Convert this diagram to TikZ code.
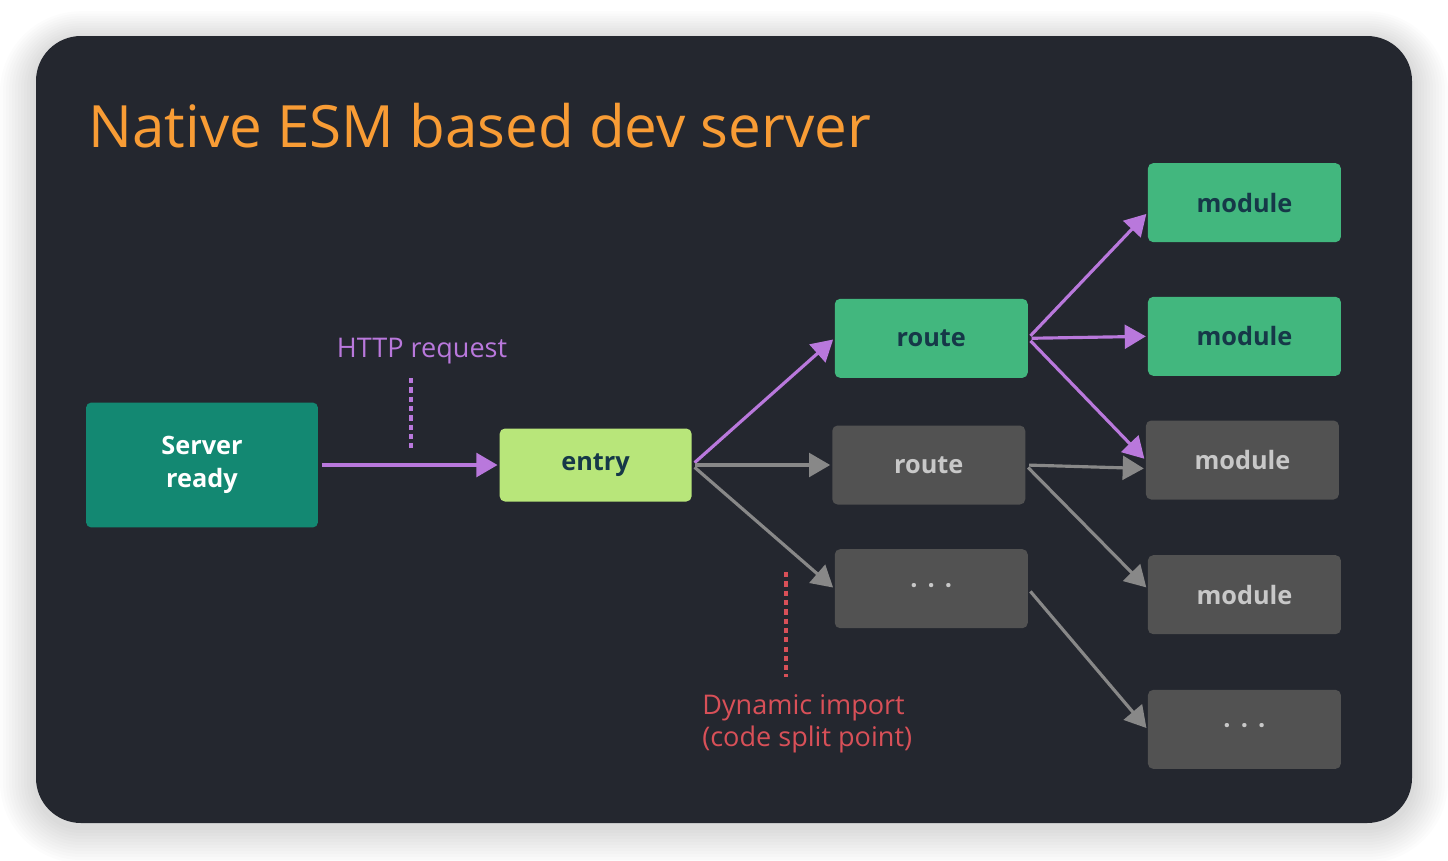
\documentclass[tikz,border=0pt]{standalone}
\usepackage{fontspec}
\setmainfont{Open Sans}
\usetikzlibrary{arrows.meta,positioning}

\definecolor{panelbg}{HTML}{24272F}
\definecolor{titleorange}{HTML}{F89C35}
\definecolor{readyteal}{HTML}{138872}
\definecolor{entrylime}{HTML}{B8E67A}
\definecolor{modgreen}{HTML}{42B77E}
\definecolor{boxgray}{HTML}{525252}
\definecolor{boxtext}{HTML}{163848}
\definecolor{graytext}{HTML}{C8C8C8}
\definecolor{arrowpurple}{HTML}{B978DC}
\definecolor{arrowgray}{HTML}{888888}
\definecolor{splitred}{HTML}{D85058}

\begin{document}
\begin{tikzpicture}[
    x=0.02cm, y=-0.02cm,
    box/.style={rectangle, rounded corners=3pt, minimum width=3.86cm, minimum height=1.58cm, inner sep=0pt, font=\fontsize{14.4}{17}\selectfont\bfseries},
    hot/.style={box, fill=modgreen, text=boxtext},
    cold/.style={box, fill=boxgray, text=graytext},
    readybox/.style={box, fill=readyteal, text=white, minimum width=4.64cm, minimum height=2.5cm, align=center, font=\fontsize{14.4}{18.8}\selectfont\bfseries},
    entrybox/.style={box, fill=entrylime, text=boxtext, minimum width=3.84cm, minimum height=1.46cm},
    arrow/.style={-{Triangle[length=12pt,width=13.5pt]}, line width=1.8pt, shorten <=2pt, shorten >=1pt},
    live/.style={arrow, draw=arrowpurple},
    idle/.style={arrow, draw=arrowgray},
    note/.style={inner sep=0pt, font=\fontsize{15.4}{18.2}\selectfont},
    pointer/.style={line width=1.9pt, dash pattern=on 3pt off 2.3pt}
]
    \useasboundingbox (0,0) rectangle (1448,860);

    % panel with soft shadow
    \foreach \i in {1,...,12}
        \fill[black, opacity=0.012, rounded corners={0.9cm+\i*0.06cm}]
            (36-\i*3,36-\i*2.4+4) rectangle (1412+\i*3,823+\i*3+4);
    \fill[panelbg, rounded corners=0.9cm] (36,36) rectangle (1412,823);

    % title
    \node[anchor=base west, inner sep=0pt, text=titleorange, font=\fontsize{33.2}{38}\selectfont] (title) at (88,147) {Native ESM based dev server};

    % server and entry
    \node[readybox] (ready) at (202,465) {Server\\ready};
    \node[entrybox] (entry) [right=3.62cm of ready] {entry};

    % routes
    \node[cold] (route2) [right=2.8cm of entry] {route};
    \node[hot] (route1) [above=0.94cm of route2, xshift=0.05cm] {route};
    \node[cold] (more1) [below=0.88cm of route2, xshift=0.05cm] {·\hspace{0.4em}·\hspace{0.4em}·};

    % modules
    \node[cold] (mod3) [right=2.4cm of route2, yshift=0.1cm] {module};
    \node[hot] (mod2) [above=0.88cm of mod3, xshift=0.04cm] {module};
    \node[hot] (mod1) [above=1.08cm of mod2] {module};
    \node[cold] (mod4) [below=1.1cm of mod3, xshift=0.04cm] {module};
    \node[cold] (mod5) [below=1.1cm of mod4] {·\hspace{0.4em}·\hspace{0.4em}·};

    % labels
    \node[note, text=arrowpurple] (http) at (422,351) {HTTP request};
    \node[note, text=splitred, align=left, anchor=west] (split) at (702,724) {Dynamic import\\(code split point)};
    \coordinate (httptop) at (411,378);
    \coordinate (httpbot) at (411,451);
    \coordinate (splittop) at (786,572);
    \coordinate (splitbot) at (786,677);
    \draw[pointer, arrowpurple] (httptop) -- (httpbot);
    \draw[pointer, splitred] (splittop) -- (splitbot);

    % connections
    \draw[live] (ready.east) -- (entry.west);
    \draw[live] (entry.east) -- (route1.west);
    \draw[idle] (entry.east) -- (route2.west);
    \draw[idle] (entry.east) -- (more1.west);
    \draw[live] (route1.east) -- ([yshift=-0.2cm]mod1.west);
    \draw[live] (route1.east) -- (mod2.west);
    \draw[live] (route1.east) -- (mod3.west);
    \draw[idle] (route2.east) -- ([yshift=-0.17cm]mod3.west);
    \draw[idle] (route2.east) -- ([yshift=0.12cm]mod4.west);
    \draw[idle] (more1.east) -- (mod5.west);

\end{tikzpicture}
\end{document}
